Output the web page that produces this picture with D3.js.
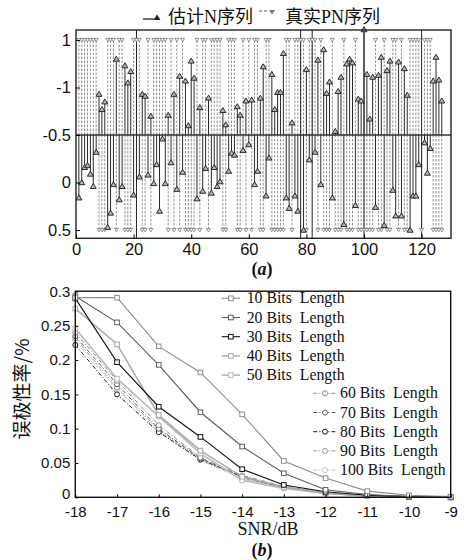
<!DOCTYPE html>
<html lang="zh">
<head>
<meta charset="UTF-8">
<title>PN</title>
<script src="https://cdn.jsdelivr.net/npm/d3@7/dist/d3.min.js"></script>
<style>
    body { margin: 0; background: #fff; }
    svg { display: block; }
    .tick text { font-family: "Liberation Sans", Arial, sans-serif; fill: #111; }
    .serif { font-family: "Liberation Serif", "Times New Roman", serif; fill: #111; }
    .cjk { font-family: "Liberation Serif", "Noto Sans CJK SC", serif; fill: #111; }
</style>
</head>
<body>
<svg width="464" height="560"></svg>
<script>
    // ---------- panel (a): estimated vs. true PN sequence (n = 1..127) ----------
    // estimated value per index, null where only a full-height line shows
    var estN = [
        -0.66, -0.50, -0.34, -0.32, -0.41, -0.54, -0.18, 0.43, 0.27, 0.35,
        -0.97, -0.82, -0.52, 0.80, -0.68, -0.54, 0.73, 0.55, 0.67, -0.63,
        null, -0.44, 0.43, 0.41, -0.42, 0.20, -0.51, -0.31, -0.80, -0.04,
        -0.51, 0.21, -0.29, 0.43, -0.57, 0.62, -0.39, 0.57, 0.10, 0.78,
        0.60, -0.67, 0.29, -0.59, -0.35, 0.39, -0.61, -0.34, -0.54, -0.49,
        0.26, 0.11, -0.38, -0.19, -0.21, 0.30, 0.21, -0.16, 0.36, -0.10,
        0.37, -0.52, -0.38, 0.39, 0.72, -0.64, -0.24, 0.64, 0.27, 0.45,
        0.45, 0.86, -0.66, -0.77, 0.13, -0.64, -0.80, null, -1.00, 0.69,
        -0.26, null, -0.18, 0.79, -0.52, 0.90, 0.44, 0.56, -0.66, 0.04,
        0.46, 0.61, -0.94, 0.75, 0.80, 0.76, -0.74, 0.38, 0.36, 1.11,
        0.64, 0.17, 0.61, -0.76, 0.63, 0.82, -0.95, 0.68, 0.78, -0.58,
        -0.85, 0.77, -0.85, 0.70, 0.42, -1.00, -0.64, -0.64, -0.31, null,
        -0.08, -0.40, -0.14, 0.57, 0.82, 0.58, 0.36
    ];
    // true PN sequence, +1 = top marker, -1 = bottom marker
    var pnSeq = [
        1, 1, 1, 1, 1, 1, 1, -1, -1, -1,
        1, 1, 1, -1, 1, 1, -1, -1, -1, 1,
        1, 1, -1, -1, 1, -1, 1, 1, 1, 1,
        1, -1, 1, -1, 1, -1, 1, -1, -1, -1,
        -1, 1, -1, 1, 1, -1, 1, 1, 1, 1,
        -1, -1, 1, 1, 1, -1, -1, 1, -1, 1,
        -1, 1, 1, -1, -1, 1, 1, -1, -1, -1,
        -1, -1, 1, 1, -1, 1, 1, 1, 1, -1,
        1, 1, 1, -1, 1, -1, -1, -1, 1, -1,
        -1, -1, 1, -1, -1, -1, 1, -1, -1, -1,
        -1, -1, -1, 1, -1, -1, 1, -1, -1, 1,
        1, -1, 1, -1, -1, 1, 1, 1, 1, -1,
        1, 1, 1, -1, -1, -1, -1
    ];
    var spikes = [21, 78, 82, 100, 120];
    var aTicksX = [0, 20, 40, 60, 80, 100, 120];
    var aTickVals = [1, 0.5, 0, -0.5, -1];
    var aTickLabels = ['1', '-1', '-0.5', '0', '0.5'];

    // ---------- panel (b): error rate vs SNR ----------
    var snr = [-18, -17, -16, -15, -14, -13, -12, -11, -10, -9];
    var bTicksY = [0, 0.05, 0.1, 0.15, 0.2, 0.25, 0.3];
    var names = ['10 Bits  Length', '20 Bits  Length', '30 Bits  Length', '40 Bits  Length', '50 Bits  Length',
                 '60 Bits  Length', '70 Bits  Length', '80 Bits  Length', '90 Bits  Length', '100 Bits  Length'];
    var ber10 = [0.291, 0.291, 0.220, 0.182, 0.121, 0.053, 0.028, 0.009, 0.003, 0.001];
    var ber20 = [0.293, 0.255, 0.193, 0.124, 0.074, 0.035, 0.011, 0.004, 0.001, 0.000];
    var ber30 = [0.290, 0.197, 0.132, 0.088, 0.041, 0.018, 0.008, 0.003, 0.001, 0.000];
    var ber40 = [0.275, 0.223, 0.120, 0.068, 0.030, 0.015, 0.006, 0.002, 0.001, 0.000];
    var ber50 = [0.246, 0.173, 0.118, 0.064, 0.025, 0.013, 0.006, 0.002, 0.001, 0.000];
    var ber60 = [0.240, 0.170, 0.105, 0.058, 0.032, 0.016, 0.007, 0.002, 0.001, 0.000];
    var ber70 = [0.235, 0.165, 0.100, 0.057, 0.030, 0.015, 0.006, 0.002, 0.001, 0.000];
    var ber80 = [0.222, 0.150, 0.095, 0.055, 0.030, 0.014, 0.006, 0.002, 0.001, 0.000];
    var ber90 = [0.232, 0.160, 0.098, 0.056, 0.028, 0.014, 0.006, 0.002, 0.001, 0.000];
    var ber100 = [0.228, 0.158, 0.096, 0.054, 0.027, 0.013, 0.005, 0.002, 0.001, 0.000];
    var berAll = [ber10, ber20, ber30, ber40, ber50, ber60, ber70, ber80, ber90, ber100];

    // styles per series (kept apart from the data)
    var colors = ['#8c8c8c', '#5e5e5e', '#111', '#a8a8a8', '#bdbdbd', '#8a8a8a', '#5a5a5a', '#1a1a1a', '#9a9a9a', '#c4c4c4'];
    var widths = [1.1, 1.1, 1.1, 1.4, 1.8, 1, 1, 1, 1, 1];

    var svg = d3.select('svg');

    // ================= panel (a) =================
    var ax = d3.scaleLinear().domain([0, 130.2]).range([76, 451]),
        ay = d3.scaleLinear().domain([-1.087, 1.105]).range([238.3, 30]),
        idx = d3.range(1, estN.length + 1),
        gA = svg.append('g');

    // dashed stems of the true sequence
    gA.append('g').selectAll('line').data(idx).join('line')
        .attr('x1', function(d) { return ax(d); })
        .attr('x2', function(d) { return ax(d); })
        .attr('y1', ay(0))
        .attr('y2', function(d) { return ay(pnSeq[d - 1]); })
        .attr('stroke', '#8f8f8f')
        .attr('stroke-width', 1)
        .attr('stroke-dasharray', '2.5,1.5');

    // baseline
    gA.append('line')
        .attr('x1', ax.range()[0]).attr('x2', ax.range()[1])
        .attr('y1', ay(0)).attr('y2', ay(0))
        .attr('stroke', '#333').attr('stroke-width', 1.6);

    // full-height lines
    gA.append('g').selectAll('line').data(spikes).join('line')
        .attr('x1', function(d) { return ax(d); })
        .attr('x2', function(d) { return ax(d); })
        .attr('y1', ay.range()[0]).attr('y2', ay.range()[1])
        .attr('stroke', '#222').attr('stroke-width', 1);

    var estIdx = idx.filter(function(d) { return estN[d - 1] !== null; });

    // solid stems of the estimate
    gA.append('g').selectAll('line').data(estIdx).join('line')
        .attr('x1', function(d) { return ax(d); })
        .attr('x2', function(d) { return ax(d); })
        .attr('y1', ay(0))
        .attr('y2', function(d) { return ay(estN[d - 1]); })
        .attr('stroke', '#2a2a2a').attr('stroke-width', 1);

    // true markers (down triangles)
    gA.append('g').selectAll('path').data(idx).join('path')
        .attr('transform', function(d) { return 'translate(' + [ax(d), ay(pnSeq[d - 1])] + ')'; })
        .attr('d', 'M-2,-1.6L2,-1.6L0,1.8Z')
        .attr('fill', '#fff').attr('stroke', '#7a7a7a').attr('stroke-width', 0.8);

    // estimate markers (up triangles)
    gA.append('g').selectAll('path').data(estIdx).join('path')
        .attr('transform', function(d) { return 'translate(' + [ax(d), ay(estN[d - 1])] + ')'; })
        .attr('d', 'M0,-2.8L3,2.2L-3,2.2Z')
        .attr('fill', '#b5b5b5').attr('stroke', '#1a1a1a').attr('stroke-width', 0.9);

    // box
    gA.append('rect')
        .attr('x', 76).attr('y', 30).attr('width', 375).attr('height', 208.3)
        .attr('fill', 'none').attr('stroke', '#222').attr('stroke-width', 1.4);

    gA.append('g')
        .attr('transform', 'translate(0,238.3)')
        .call(d3.axisBottom(ax).tickValues(aTicksX).tickSizeInner(-4).tickSizeOuter(0).tickPadding(5))
        .call(function(g) { g.select('.domain').remove(); })
        .selectAll('text').attr('font-size', 16.5);

    gA.append('g')
        .attr('transform', 'translate(76,0)')
        .call(d3.axisLeft(ay).tickValues(aTickVals)
            .tickFormat(function(d, i) { return aTickLabels[i]; })
            .tickSizeInner(-4).tickSizeOuter(0).tickPadding(5))
        .call(function(g) { g.select('.domain').remove(); })
        .selectAll('text').attr('font-size', 16.5);

    // legend (a)
    gA.append('line').attr('x1', 143).attr('x2', 154).attr('y1', 19).attr('y2', 19)
        .attr('stroke', '#222').attr('stroke-width', 1.3);
    gA.append('path').attr('transform', 'translate(157,17.5)').attr('d', 'M0,-3L3.5,2.5L-3.5,2.5Z')
        .attr('fill', '#222');
    gA.append('text').attr('class', 'cjk').attr('x', 168).attr('y', 23).attr('font-size', 18).text('估计N序列');
    gA.append('line').attr('x1', 259).attr('x2', 268).attr('y1', 11).attr('y2', 11)
        .attr('stroke', '#666').attr('stroke-width', 1.2).attr('stroke-dasharray', '3,2');
    gA.append('path').attr('transform', 'translate(272,12)').attr('d', 'M-3,-2L3,-2L0,2.5Z')
        .attr('fill', '#777');
    gA.append('text').attr('class', 'cjk').attr('x', 285).attr('y', 23).attr('font-size', 18).text('真实PN序列');

    gA.append('text').attr('class', 'serif').attr('x', 262).attr('y', 275)
        .attr('text-anchor', 'middle').attr('font-size', 18).attr('font-weight', 'bold')
        .html('(<tspan font-style="italic">a</tspan>)');

    // ================= panel (b) =================
    var bx = d3.scaleLinear().domain([-18, -9]).range([75.3, 450.7]),
        by = d3.scaleLinear().domain([0, 0.3]).range([497.3, 291.5]),
        gB = svg.append('g');

    var lineB = d3.line()
        .x(function(d, i) { return bx(snr[i]); })
        .y(function(d) { return by(d); });

    function dashFor(k) { return k < 5 ? null : '4,2,1,2'; }

    function marker(sel, k, x, y) {
        if (k < 5) {
            sel.append('rect').attr('x', x - 2.3).attr('y', y - 2.3).attr('width', 4.6).attr('height', 4.6)
                .attr('fill', '#fff').attr('stroke', colors[k]).attr('stroke-width', 1);
        } else {
            sel.append('circle').attr('cx', x).attr('cy', y).attr('r', 2.5)
                .attr('fill', '#fff').attr('stroke', colors[k]).attr('stroke-width', 1);
        }
    }

    var order = [9, 8, 7, 6, 5, 4, 3, 2, 1, 0];
    order.forEach(function(k) {
        var g = gB.append('g');
        g.append('path').datum(berAll[k])
            .attr('d', lineB)
            .attr('fill', 'none')
            .attr('stroke', colors[k])
            .attr('stroke-width', widths[k])
            .attr('stroke-dasharray', dashFor(k));
        berAll[k].forEach(function(v, i) { marker(g, k, bx(snr[i]), by(v)); });
    });

    gB.append('rect')
        .attr('x', 75.3).attr('y', 291.2).attr('width', 375.4).attr('height', 206.1)
        .attr('fill', 'none').attr('stroke', '#111').attr('stroke-width', 1.4);

    gB.append('g')
        .attr('transform', 'translate(0,497.3)')
        .call(d3.axisBottom(bx).tickValues(snr).tickFormat(function(d) { return String(d); })
            .tickSizeInner(-3).tickSizeOuter(0).tickPadding(9.5))
        .call(function(g) { g.select('.domain').remove(); })
        .selectAll('text').attr('font-size', 15);

    gB.append('g')
        .attr('transform', 'translate(75.3,0)')
        .call(d3.axisLeft(by).tickValues(bTicksY).tickFormat(function(d) { return String(d); })
            .tickSizeInner(-3).tickSizeOuter(0).tickPadding(5))
        .call(function(g) { g.select('.domain').remove(); })
        .selectAll('text').attr('font-size', 15)
        .attr('dy', function(d) { return d === 0 ? '0.1em' : '0.32em'; });

    // legend (b)
    names.forEach(function(name, k) {
        var first = k < 5,
            y = first ? 298.3 + k * 19.2 : 393.3 + (k - 5) * 19.2,
            x0 = first ? 221.7 : 313.3,
            x1 = first ? 240 : 336.7,
            tx = first ? 246.7 : 340;
        var g = gB.append('g');
        g.append('line').attr('x1', x0).attr('x2', x1).attr('y1', y).attr('y2', y)
            .attr('stroke', colors[k]).attr('stroke-width', widths[k])
            .attr('stroke-dasharray', dashFor(k));
        marker(g, k, (x0 + x1) / 2, y);
        g.append('text').attr('class', 'serif').attr('x', tx).attr('y', y + 5)
            .attr('font-size', 15.8).style('white-space', 'pre').text(name);
    });

    gB.append('text').attr('class', 'serif').attr('x', 268).attr('y', 535)
        .attr('text-anchor', 'middle').attr('font-size', 18).text('SNR/dB');

    gB.append('text').attr('class', 'serif').attr('x', 262).attr('y', 556)
        .attr('text-anchor', 'middle').attr('font-size', 18).attr('font-weight', 'bold')
        .html('(<tspan font-style="italic">b</tspan>)');

    gB.append('text')
        .attr('transform', 'translate(29,389) rotate(-90)')
        .attr('text-anchor', 'middle')
        .attr('font-family', '"Noto Sans CJK SC", sans-serif')
        .attr('font-size', 19).attr('fill', '#111')
        .text('误极性率/%');
</script>
</body>
</html>
